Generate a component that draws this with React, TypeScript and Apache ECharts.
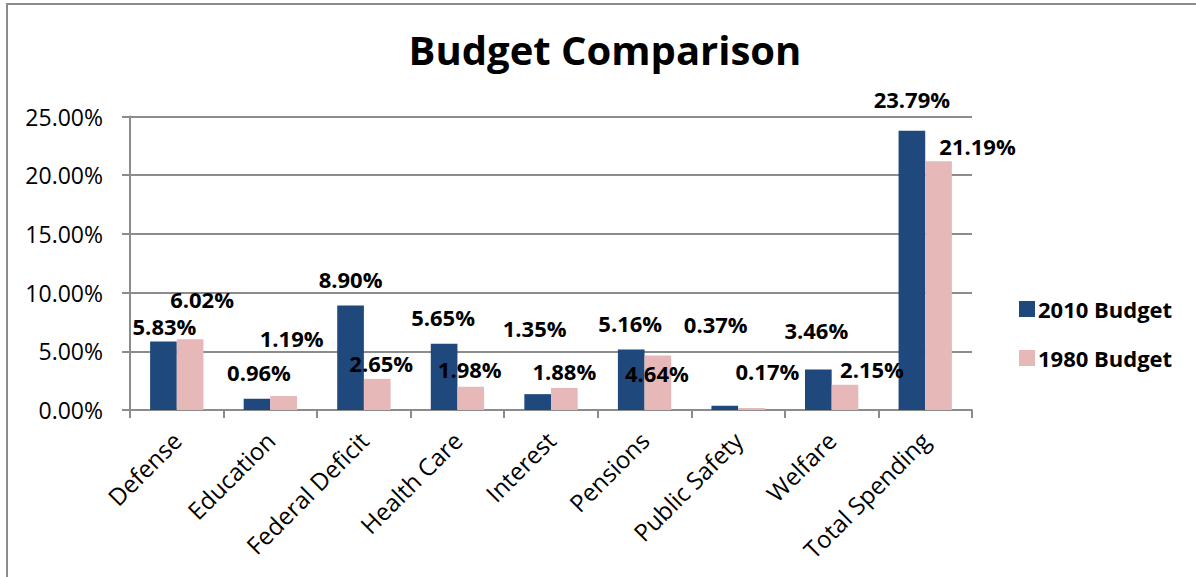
import React, { useEffect, useRef } from "react";
import * as echarts from "echarts";

const categories = [
  "Defense",
  "Education",
  "Federal Deficit",
  "Health Care",
  "Interest",
  "Pensions",
  "Public Safety",
  "Welfare",
  "Total Spending",
];
const budget2010 = [5.83, 0.96, 8.9, 5.65, 1.35, 5.16, 0.37, 3.46, 23.79];
const budget1980 = [6.02, 1.19, 2.65, 1.98, 1.88, 4.64, 0.17, 2.15, 21.19];
const yTicks = { min: 0, max: 25, interval: 5 };

// label nudges (style only): [dx, dy] relative to the default "top" label
const nudge2010: [number, number][] = [
  [1, 0], [2, -11], [0, -11], [-1, -11], [-3, -50], [-1, -10], [-9, -66], [-2, -23], [0, -16],
];
const nudge1980: [number, number][] = [
  [12, -24], [8, -42], [4, 0], [-1, -2], [0, -1], [-1, 33], [16, -21], [27, 0], [39, 1],
];

const FONT = "'Open Sans', 'Noto Sans', sans-serif";

export default function App() {
  const ref = useRef<HTMLDivElement>(null);
  useEffect(() => {
    document.body.style.margin = "0";
    if (!ref.current) return;
    const chart = echarts.init(ref.current, undefined, { renderer: "svg" });
    const labelBase = {
      show: true,
      position: "top" as const,
      distance: 5,
      color: "#000",
      fontFamily: FONT,
      fontWeight: "bold" as const,
      fontSize: 22,
      formatter: (p: any) => `${Number(p.value).toFixed(2)}%`,
    };
    chart.setOption({
      animation: false,
      textStyle: { fontFamily: FONT },
      title: {
        text: "Budget Comparison",
        left: 600,
        textAlign: "center",
        top: 24,
        textStyle: { fontFamily: FONT, fontWeight: "bold", fontSize: 40, color: "#000" },
      },
      graphic: [
        {
          type: "rect",
          shape: { x: 7, y: 4, width: 1300, height: 700 },
          style: { fill: "none", stroke: "#8c8c8c", lineWidth: 2 },
          silent: true,
        },
      ],
      legend: {
        orient: "vertical",
        left: 1014,
        top: 293,
        itemWidth: 16,
        itemHeight: 16,
        itemGap: 27,
        icon: "rect",
        textStyle: { fontFamily: FONT, fontWeight: "bold", fontSize: 22, color: "#000", padding: [0, 0, 0, -2] },
        data: ["2010 Budget", "1980 Budget"],
      },
      grid: { left: 130, right: 224, top: 116.5, bottom: 167, containLabel: false },
      xAxis: {
        type: "category",
        data: categories,
        boundaryGap: true,
        axisLine: { lineStyle: { color: "#8c8c8c", width: 2 } },
        axisTick: { show: true, length: 8, alignWithLabel: false, lineStyle: { color: "#8c8c8c", width: 2 } },
        axisLabel: {
          rotate: 45,
          interval: 0,
          margin: 26,
          fontFamily: FONT,
          fontSize: 24,
          color: "#000",
        },
      },
      yAxis: {
        type: "value",
        min: yTicks.min,
        max: yTicks.max,
        interval: yTicks.interval,
        axisLine: { show: true, lineStyle: { color: "#8c8c8c", width: 2 } },
        axisTick: { show: true, length: 8, lineStyle: { color: "#8c8c8c", width: 2 } },
        splitLine: { show: true, lineStyle: { color: "#8c8c8c", width: 2 } },
        axisLabel: {
          margin: 27,
          fontFamily: FONT,
          fontSize: 23,
          color: "#000",
          formatter: (v: number) => `${v.toFixed(2)}%`,
        },
      },
      series: [
        {
          name: "2010 Budget",
          type: "bar",
          barGap: "0%",
          barCategoryGap: "43%",
          itemStyle: { color: "#1F497D" },
          label: labelBase,
          data: budget2010.map((v, i) => ({ value: v, label: { offset: nudge2010[i] } })),
        },
        {
          name: "1980 Budget",
          type: "bar",
          barGap: "0%",
          barCategoryGap: "43%",
          itemStyle: { color: "#E6B9B8" },
          label: labelBase,
          data: budget1980.map((v, i) => ({ value: v, label: { offset: nudge1980[i] } })),
        },
      ],
    });
    return () => chart.dispose();
  }, []);
  return <div ref={ref} style={{ width: 1196, height: 577 }} />;
}
